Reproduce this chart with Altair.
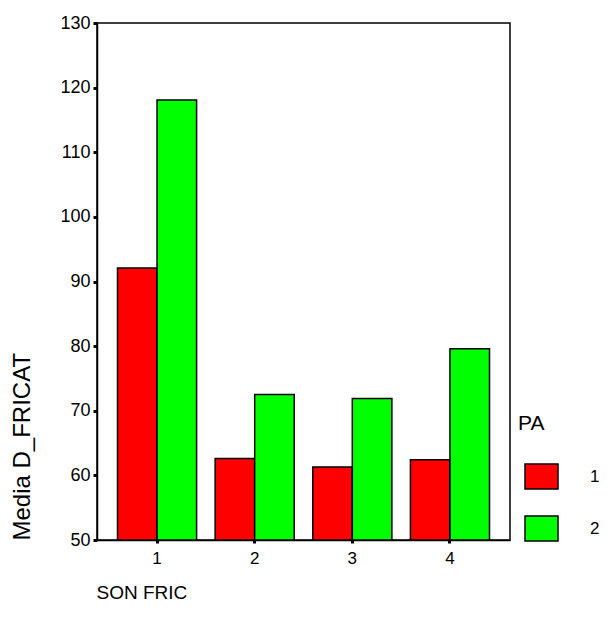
import altair as alt
import pandas as pd

categories = ["1", "2", "3", "4"]
pa_groups = ["1", "2"]
values_pa1 = [92.1, 62.6, 61.3, 62.4]
values_pa2 = [118.1, 72.5, 71.9, 79.6]

rows = []
for i, c in enumerate(categories):
    rows.append({"SON_FRIC": c, "PA": "1", "value": values_pa1[i]})
    rows.append({"SON_FRIC": c, "PA": "2", "value": values_pa2[i]})
df = pd.DataFrame(rows)

FONT = "Liberation Sans"

bars = alt.Chart(df).mark_bar(stroke="black", strokeWidth=1.5, clip=True).encode(
    x=alt.X("SON_FRIC:N", title="SON  FRIC",
            scale=alt.Scale(paddingInner=0.19, paddingOuter=0.21),
            axis=alt.Axis(labelAngle=0, labelFontSize=17, labelFont=FONT, labelColor="black",
                          tickColor="black", tickSize=3, tickWidth=3, labelPadding=7,
                          domainColor="black", domainWidth=1.5,
                          titleFont=FONT, titleFontSize=19, titleFontWeight="normal",
                          titleAnchor="start", titleAlign="left", titleX=-1, titleY=52,
                          titleBaseline="middle", titleColor="black")),
    xOffset=alt.XOffset("PA:N", sort=pa_groups),
    y=alt.Y("value:Q", title="Media D_FRICAT",
            scale=alt.Scale(domain=[50, 130], nice=False, zero=False),
            axis=alt.Axis(values=[50, 60, 70, 80, 90, 100, 110, 120, 130], grid=False,
                          labelFontSize=18, labelFont=FONT, labelColor="black",
                          tickColor="black", tickSize=4, tickWidth=3, labelPadding=3,
                          domainColor="black", domainWidth=1.5,
                          titleFont=FONT, titleFontSize=24, titleFontWeight="normal",
                          titleAnchor="start", titleX=-75, titleBaseline="middle",
                          titleColor="black")),
    y2=alt.datum(50),
    color=alt.Color("PA:N", sort=pa_groups,
                    scale=alt.Scale(domain=pa_groups, range=["#ff0000", "#00ff00"]),
                    legend=alt.Legend(title="PA", orient="none", legendX=421, legendY=390,
                                      titleFont=FONT, titleFontSize=21, titleFontWeight="normal",
                                      titleColor="black", titlePadding=29,
                                      labelFont=FONT, labelFontSize=17, labelColor="black",
                                      labelOffset=35, symbolOffset=10,
                                      symbolType="M-1.32,-1H1.32V1H-1.32Z", symbolSize=625,
                                      symbolStrokeColor="black", symbolStrokeWidth=1.5,
                                      symbolOpacity=1, rowPadding=21)),
)

chart = bars.properties(
    width=413, height=517,
    background="white",
    autosize=alt.AutoSizeParams(type="none"),
    padding={"left": 89, "top": 15, "right": 92, "bottom": 80},
).configure_view(stroke="black", strokeWidth=1.5)

chart.save("out.html", embed_options={"renderer": "svg", "actions": False})
